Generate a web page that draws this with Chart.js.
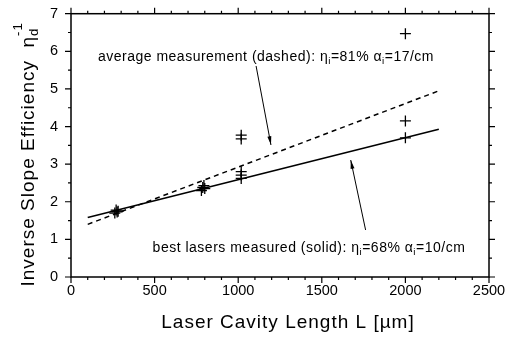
<!DOCTYPE html>
<html>
<head>
<meta charset="utf-8">
<script src="https://cdn.jsdelivr.net/npm/chart.js@4/dist/chart.umd.min.js"></script>
<style>
  html, body { margin: 0; padding: 0; background: #fff; }
  #wrap { width: 511px; height: 341px; }
</style>
</head>
<body>
<div id="wrap"><canvas id="c" width="511" height="341"></canvas></div>
<script>
// Measured inverse slope efficiency versus cavity length
const cavityLength = [262, 270, 276, 282, 780, 788, 795, 800, 1018, 1018, 1018, 1018, 1018, 2000, 2000, 2000];
const inverseEff   = [1.70, 1.78, 1.73, 1.75, 2.30, 2.38, 2.43, 2.35, 3.67, 3.77, 2.62, 2.71, 2.80, 6.47, 4.15, 3.70];

// Fitted lines (end points of each fit)
const fitLength   = [100, 2200];
const solidFit    = [1.58, 3.93];   // best lasers: eta_i = 68 %, alpha_i = 10/cm
const dashedFit   = [1.40, 4.95];   // average: eta_i = 81 %, alpha_i = 17/cm

// Axis ticks
const xTicks = [0, 500, 1000, 1500, 2000, 2500];
const yTicks = [0, 1, 2, 3, 4, 5, 6, 7];

const FONT = '"Liberation Sans", Arial, Helvetica, sans-serif';

// Text annotations with subscripted symbols, anchored in data units
const notes = [
  { x: 161, y: 5.85, parts: [
    { t: 'average measurement (dashed): ' }, { t: 'η' }, { t: 'i', sub: true },
    { t: '=81% ' }, { t: 'α' }, { t: 'i', sub: true }, { t: '=17/cm' } ] },
  { x: 488, y: 0.77, parts: [
    { t: 'best lasers measured (solid): ' }, { t: 'η' }, { t: 'i', sub: true },
    { t: '=68% ' }, { t: 'α' }, { t: 'i', sub: true }, { t: '=10/cm' } ] }
];
// Arrows from the notes to the fit lines: [fromX, fromY, toX, toY]
const arrows = [
  [1107, 5.61, 1196, 3.51],
  [1762, 1.25, 1673, 3.11]
];

function drawRich(ctx, parts, x, y, size) {
  let cx = x;
  ctx.textBaseline = 'middle';
  ctx.textAlign = 'left';
  for (const p of parts) {
    if (p.sub) {
      ctx.font = (size * 0.7) + 'px ' + FONT;
      ctx.fillText(p.t, cx, y + size * 0.3);
    } else {
      ctx.font = size + 'px ' + FONT;
      ctx.fillText(p.t, cx, y);
    }
    cx += ctx.measureText(p.t).width;
  }
}

const framePlugin = {
  id: 'frame',
  afterDraw(chart) {
    const { ctx, chartArea: a, scales } = chart;
    const xs = scales.x, ys = scales.y;
    ctx.save();
    ctx.strokeStyle = '#000';
    ctx.fillStyle = '#000';
    // frame
    ctx.lineWidth = 1.5;
    ctx.strokeRect(a.left, a.top, a.right - a.left, a.bottom - a.top);
    // outward tick marks on all four sides
    ctx.lineWidth = 1.2;
    ctx.beginPath();
    for (let v = 0; v <= 2500; v += 100) {
      const px = xs.getPixelForValue(v);
      const len = v % 500 === 0 ? 6 : 3;
      ctx.moveTo(px, a.bottom); ctx.lineTo(px, a.bottom + len);
      ctx.moveTo(px, a.top); ctx.lineTo(px, a.top - len);
    }
    for (let v = 0; v <= 7; v += 0.5) {
      const py = ys.getPixelForValue(v);
      const len = v % 1 === 0 ? 6 : 3;
      ctx.moveTo(a.left, py); ctx.lineTo(a.left - len, py);
      ctx.moveTo(a.right, py); ctx.lineTo(a.right + len, py);
    }
    ctx.stroke();

    // annotations
    ctx.letterSpacing = '0.5px';
    for (const n of notes) {
      drawRich(ctx, n.parts, xs.getPixelForValue(n.x), ys.getPixelForValue(n.y), 14);
    }
    ctx.letterSpacing = '0px';
    ctx.lineWidth = 1;
    for (const ar of arrows) {
      const x0 = xs.getPixelForValue(ar[0]), y0 = ys.getPixelForValue(ar[1]);
      const x1 = xs.getPixelForValue(ar[2]), y1 = ys.getPixelForValue(ar[3]);
      ctx.beginPath(); ctx.moveTo(x0, y0); ctx.lineTo(x1, y1); ctx.stroke();
      const ang = Math.atan2(y1 - y0, x1 - x0);
      const hl = 9, hw = 0.22;
      ctx.beginPath();
      ctx.moveTo(x1, y1);
      ctx.lineTo(x1 - hl * Math.cos(ang - hw), y1 - hl * Math.sin(ang - hw));
      ctx.lineTo(x1 - hl * Math.cos(ang + hw), y1 - hl * Math.sin(ang + hw));
      ctx.closePath(); ctx.fill();
    }

    const size = 19;
    // x-axis title
    ctx.letterSpacing = '1px';
    ctx.font = size + 'px ' + FONT;
    ctx.textAlign = 'center';
    ctx.textBaseline = 'middle';
    ctx.fillText('Laser Cavity Length L [µm]', (a.left + a.right) / 2 + 8, 323);

    // rotated y-axis title with subscript and superscript
    ctx.save();
    ctx.translate(29, 157);
    ctx.rotate(-Math.PI / 2);
    ctx.textBaseline = 'middle';
    ctx.textAlign = 'left';
    const main = 'Inverse Slope Efficiency  η';
    ctx.font = (size * 0.7) + 'px ' + FONT;
    const subW = ctx.measureText('d').width;
    ctx.font = size + 'px ' + FONT;
    const mainW = ctx.measureText(main).width;
    let cx = -(mainW + subW) / 2;
    ctx.fillText(main, cx, 0);
    cx += mainW;
    ctx.font = (size * 0.7) + 'px ' + FONT;
    ctx.fillText('d', cx, size * 0.3);
    ctx.fillText('-1', cx, -size * 0.55);
    ctx.restore();

    ctx.restore();
  }
};

new Chart(document.getElementById('c'), {
  type: 'scatter',
  data: {
    datasets: [
      {
        label: 'measured',
        data: cavityLength.map((l, i) => ({ x: l, y: inverseEff[i] })),
        pointStyle: 'cross',
        pointRadius: 5.5,
        borderColor: '#000',
        borderWidth: 1.3,
        showLine: false
      },
      {
        label: 'best lasers',
        data: fitLength.map((l, i) => ({ x: l, y: solidFit[i] })),
        showLine: true,
        pointRadius: 0,
        borderColor: '#000',
        borderWidth: 1.6
      },
      {
        label: 'average',
        data: fitLength.map((l, i) => ({ x: l, y: dashedFit[i] })),
        showLine: true,
        pointRadius: 0,
        borderColor: '#000',
        borderWidth: 1.5,
        borderDash: [5, 4]
      }
    ]
  },
  options: {
    responsive: false,
    animation: false,
    devicePixelRatio: 1,
    layout: { padding: { left: 0, right: 0, top: 8, bottom: 0 } },
    plugins: { legend: { display: false }, tooltip: { enabled: false } },
    scales: {
      x: {
        type: 'linear', min: 0, max: 2500,
        afterBuildTicks: s => { s.ticks = xTicks.map(v => ({ value: v })); },
        afterFit: s => { s.height = 64; },
        grid: { display: false }, border: { display: false },
        ticks: { color: '#000', font: { family: FONT, size: 14.5 }, padding: -3, maxRotation: 0,
                 callback: v => String(v) }
      },
      y: {
        type: 'linear', min: 0, max: 7,
        afterBuildTicks: s => { s.ticks = yTicks.map(v => ({ value: v })); },
        afterFit: s => { s.width = 71; },
        grid: { display: false }, border: { display: false },
        ticks: { color: '#000', font: { family: FONT, size: 14.5 }, padding: 5,
                 callback: v => String(v) }
      },
      y2: {
        type: 'linear', position: 'right', min: 0, max: 7,
        afterFit: s => { s.width = 22; },
        grid: { display: false }, border: { display: false },
        ticks: { display: false }
      }
    }
  },
  plugins: [framePlugin]
});
</script>
</body>
</html>
